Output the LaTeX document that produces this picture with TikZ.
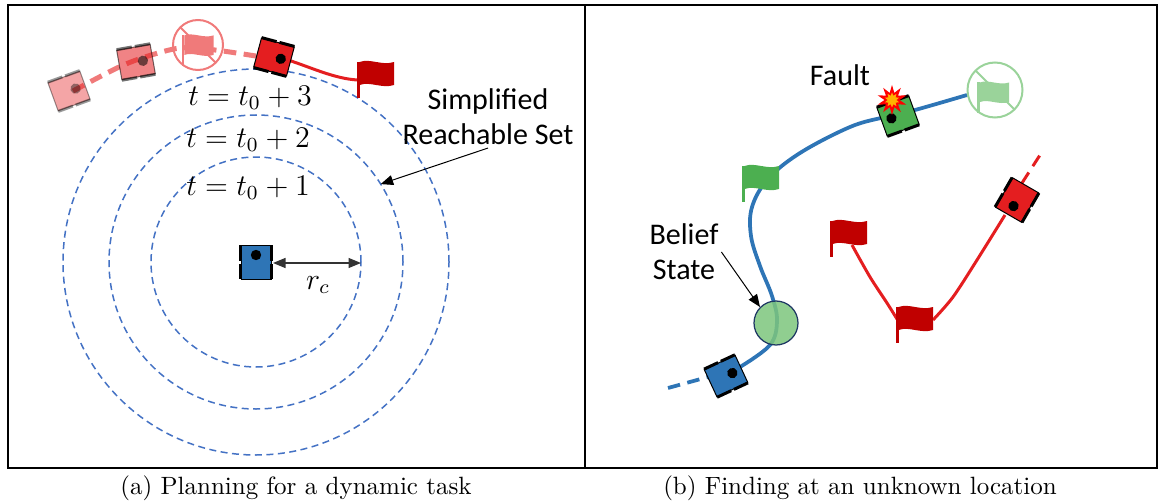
\documentclass[tikz,border=0pt]{standalone}
\usepackage{fontspec}
\setsansfont{Carlito}
\usetikzlibrary{arrows.meta,shapes.geometric}
\definecolor{rbblue}{HTML}{2E75B6}
\definecolor{rbred}{HTML}{E41E20}
\definecolor{flagred}{HTML}{C00000}
\definecolor{rbgreen}{HTML}{4CAF50}
\definecolor{belief}{HTML}{7DC67D}
\definecolor{navy}{HTML}{1F3864}
\definecolor{setblue}{HTML}{4472C4}
\definecolor{palered}{HTML}{F07A7A}
\definecolor{palegreen}{HTML}{9AD39A}

\tikzset{
  pics/robot/.style={code={
    \fill[#1,draw=black,line width=0.4pt] (-15,-17) rectangle (15,17);
    \fill[black] (-17,-17) rectangle (-14,-1.5);
    \fill[black] (-17,1.5) rectangle (-14,17);
    \fill[black] (14,-17) rectangle (17,-1.5);
    \fill[black] (14,1.5) rectangle (17,17);
    \fill[black] (0,7) circle (5.2);
  }},
  pics/flag/.style={code={
    \fill[#1] (-1.5,0) rectangle (1.5,36);
    \fill[#1] (1.5,13) .. controls (12,17) and (24,9) .. (36,13)
      -- (36,36) .. controls (24,32) and (12,40) .. (1.5,36) -- cycle;
  }},
  pics/noflag/.style={code={
    \pic[scale=0.85] at (-15,-21) {flag=#1};
    \draw[#1,line width=0.8pt] (0,0) circle (25);
    \draw[#1,line width=0.8pt] (135:25) -- (-45:25);
  }},
  reach/.style={setblue,dash pattern=on 2.8pt off 1.8pt,line width=0.6pt},
  bluepath/.style={rbblue,line width=1.5pt},
  redpath/.style={rbred,line width=1.2pt},
  label/.style={font=\sffamily\fontsize{12}{14}\selectfont,align=center,inner sep=1pt},
  tlabel/.style={font=\large,inner sep=1pt},
  pointer/.style={black,line width=0.4pt,-{Triangle[length=5pt,width=4pt]}},
  boom/.style={star,star points=10,inner sep=0pt},
}

\begin{document}
\begin{tikzpicture}[x=0.4pt,y=0.4pt]
\useasboundingbox (0,0) rectangle (1159,501);

% panel frames
\draw[line width=0.6pt] (8,33) rectangle (585,496);
\draw[line width=0.6pt] (585,33) rectangle (1157,496);

%%% (a) dynamic task
\coordinate (C) at (256,239);
\draw[reach] (C) circle (105);
\draw[reach] (C) circle (147);
\draw[reach] (C) circle (193);
\node[tlabel] (t3) at (250,403) {$t=t_0+3$};
\node[tlabel] (t2) at (248,361) {$t=t_0+2$};
\node[tlabel] (t1) at (248,313) {$t=t_0+1$};

% past trajectory of the moving goal
\draw[palered,line width=2pt,dash pattern=on 5pt off 3pt]
  plot[smooth] coordinates {(73,410) (117,433) (145,444) (180,453) (215,451) (262,444)};
\pic[rotate=-70,opacity=0.4] at (69,410) {robot=rbred};
\pic[rotate=-80,opacity=0.55] at (136,439) {robot=rbred};
\pic at (198,456) {noflag=palered};

\draw[redpath] (288,441) .. controls (310,434) and (335,422) .. (358,421);
\pic at (358,403) {flag=flagred};
\pic[rotate=-105] at (274,444) {robot=rbred};

% blue robot and its reach radius
\pic at (256,239) {robot=rbblue};
\coordinate (rcA) at (273,238);
\path (C) ++(0:105) coordinate (rcB);
\draw[black!80,line width=0.5pt,{Triangle[length=5pt,width=4pt]}-{Triangle[length=5pt,width=4pt]}] (rcA) -- (rcB |- rcA);
\node[tlabel] (rc) at (318,216) {$r_c$};

\node[label] (reach) at (488,384) {Simplified\\Reachable Set};
\path (C) ++(32:147) coordinate (tip);
\draw[pointer] (reach.south) -- (tip);

%%% (b) unknown location
\draw[bluepath,dash pattern=on 5pt off 3pt] (668,113) -- (708,124);
\draw[bluepath] plot[smooth,tension=0.6] coordinates {(740,134) (770,156) (777,180) (772,205) (760,235) (751,265) (752,294) (768,322) (800,348) (850,374) (885,384) (915,391) (967,406)};
\node[circle,fill=belief,fill opacity=0.85,draw=navy,line width=0.5pt,minimum size=17.6pt,inner sep=0pt] (belief) at (776,178) {};
\pic[rotate=-65] at (726,125) {robot=rbblue};
\pic at (743,299) {flag=rbgreen};
\pic[scale=1.1] at (995,411) {noflag=palegreen};
\pic[rotate=110] at (898,385) {robot=rbgreen};
\node[boom,star point ratio=2,fill=red,minimum size=12pt] (fault) at (892,401) {};
\node[boom,star point ratio=1.7,fill=orange!60!yellow,minimum size=6pt] (faultcore) at (fault) {};
\node[label] (faultlbl) at (840,426) {Fault};

\node[label] (bstate) at (684,249) {Belief\\State};
\draw[pointer] (bstate.east) -- (belief.north west);

% second robot visiting the red goals
\draw[redpath,dash pattern=on 5pt off 3pt] (1022,318) -- (1040,346);
\draw[redpath] plot[smooth] coordinates {(1005,286) (977,241) (953,204) (933,181)};
\draw[redpath] plot[smooth] coordinates {(852,256) (870,224) (887,198) (897,182)};
\pic at (831,244) {flag=flagred};
\pic at (897,158) {flag=flagred};
\pic[rotate=150] at (1017,301) {robot=rbred};

% captions
\node (capa) at (296,13) {(a) Planning for a dynamic task};
\node (capb) at (860,13) {(b) Finding at an unknown location};
\end{tikzpicture}
\end{document}
